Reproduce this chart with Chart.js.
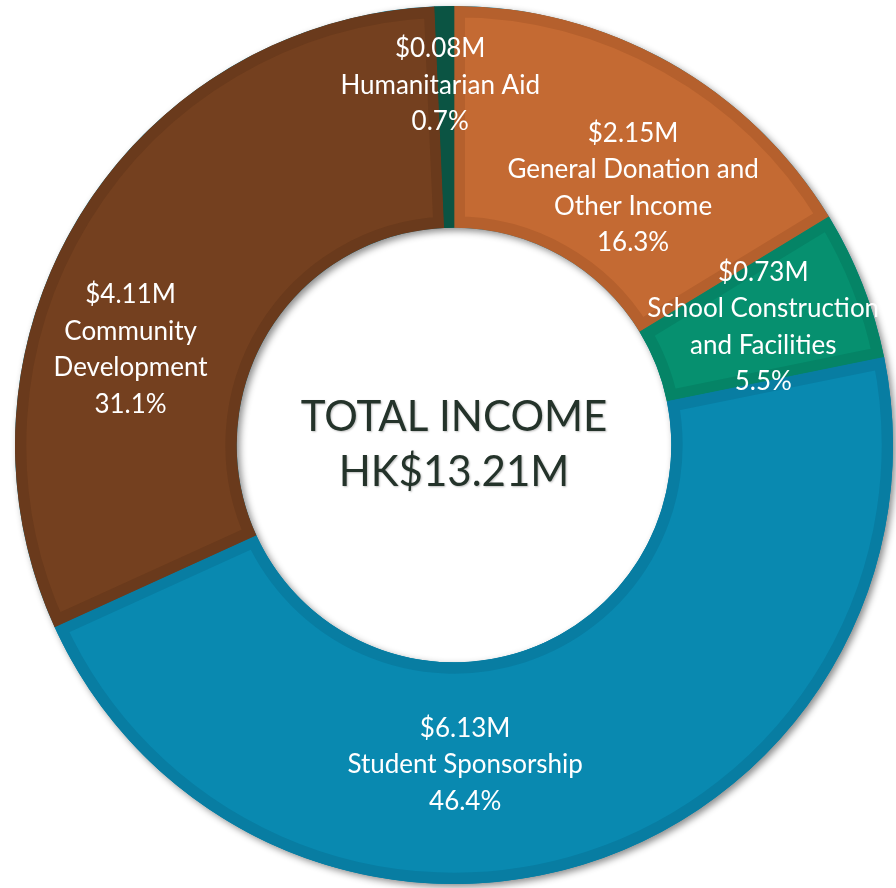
<!DOCTYPE html>
<html>
<head>
<meta charset="utf-8">
<script src="https://cdn.jsdelivr.net/npm/chart.js@4.4.1/dist/chart.umd.min.js"></script>
<style>
  html, body { margin: 0; padding: 0; background: #ffffff; }
  #wrap { width: 896px; height: 888px; position: relative; }
</style>
</head>
<body>
<div id="wrap"><canvas id="c" width="896" height="888"></canvas></div>
<script>
// ---- data ----
const categories = [
  ['General Donation and', 'Other Income'],
  ['School Construction', 'and Facilities'],
  ['Student Sponsorship'],
  ['Community', 'Development'],
  ['Humanitarian Aid']
];
const amountLabels = ['$2.15M', '$0.73M', '$6.13M', '$4.11M', '$0.08M'];
const shares = [16.3, 5.5, 46.4, 31.1, 0.7];
const percentLabels = ['16.3%', '5.5%', '46.4%', '31.1%', '0.7%'];
const centerTitle = 'TOTAL INCOME';
const centerTotal = 'HK$13.21M';

// ---- styling ----
const fillColors   = ['#C46A33', '#06906F', '#0989B0', '#74401F', '#0B5443'];
const borderColors = ['#B5602D', '#058466', '#087DA2', '#6A3A1C', '#0B5443'];
// label placement: angle (deg clockwise from top) and fraction of outer radius
const labelAngle  = [34.9, 69.1, 178.0, 286.4, 357.8];
const labelRadius = [0.713, 0.754, 0.729, 0.768, 0.82];
const LABEL_FONT = '26px Lato';
const LINE_H = 36.5;

const ringShadow = {
  id: 'ringShadow',
  beforeDatasetsDraw(chart) {
    const arc = chart.getDatasetMeta(0).data[0];
    if (!arc) return;
    const {x, y, innerRadius, outerRadius} = arc.getProps(['x','y','innerRadius','outerRadius'], true);
    const ctx = chart.ctx;
    ctx.save();
    ctx.shadowColor = 'rgba(0,0,0,0.45)';
    ctx.shadowBlur = 7;
    ctx.shadowOffsetX = 3;
    ctx.shadowOffsetY = 3;
    ctx.fillStyle = '#0989B0';
    ctx.beginPath();
    ctx.arc(x, y, outerRadius, 0, Math.PI * 2);
    ctx.moveTo(x + innerRadius, y);
    ctx.arc(x, y, innerRadius, 0, Math.PI * 2, true);
    ctx.fill('evenodd');
    ctx.restore();
  }
};

const labelsPlugin = {
  id: 'sliceLabels',
  afterDatasetsDraw(chart) {
    const meta = chart.getDatasetMeta(0);
    const ctx = chart.ctx;
    const a0 = meta.data[0];
    const cx = a0.x, cy = a0.y, R = a0.outerRadius;
    ctx.save();
    ctx.fillStyle = '#ffffff';
    ctx.textAlign = 'center';
    ctx.textBaseline = 'middle';
    ctx.font = LABEL_FONT;
    meta.data.forEach((arc, i) => {
      const a = (labelAngle[i] - 90) * Math.PI / 180;
      const lx = cx + R * labelRadius[i] * Math.cos(a);
      const ly = cy + R * labelRadius[i] * Math.sin(a);
      const lines = [amountLabels[i], ...categories[i], percentLabels[i]];
      const top = ly - (lines.length - 1) * LINE_H / 2;
      lines.forEach((t, k) => ctx.fillText(t, lx, top + k * LINE_H));
    });
    // centre text
    ctx.font = '42px Lato';
    ctx.fillStyle = '#24332A';
    ctx.shadowColor = 'rgba(0,0,0,0.25)';
    ctx.shadowBlur = 2;
    ctx.shadowOffsetX = 1;
    ctx.shadowOffsetY = 1;
    ctx.fillText(centerTitle, cx, cy - 28);
    ctx.fillText(centerTotal, cx, cy + 27);
    ctx.restore();
  }
};

new Chart(document.getElementById('c'), {
  type: 'doughnut',
  data: {
    labels: categories.map(c => c.join(' ')),
    datasets: [{
      data: shares,
      backgroundColor: fillColors,
      borderColor: borderColors,
      borderWidth: 11,
      borderAlign: 'inner',
      hoverOffset: 0,
      hoverBorderWidth: 0
    }]
  },
  options: {
    responsive: false,
    animation: false,
    events: [],
    cutout: '49.5%',
    rotation: 0,
    layout: { padding: { left: 15, right: 3, top: 6, bottom: 4 } },
    plugins: {
      legend: { display: false },
      tooltip: { enabled: false }
    }
  },
  plugins: [ringShadow, labelsPlugin]
});
</script>
</body>
</html>
